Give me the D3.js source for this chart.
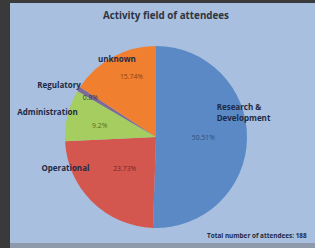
<!DOCTYPE html>
<html>
<head>
<meta charset="utf-8">
<script src="https://cdn.jsdelivr.net/npm/d3@7"></script>
<style>
html,body{margin:0;padding:0;background:#4a4a4a;}
svg{display:block;font-family:"Open Sans","DejaVu Sans",sans-serif;}
</style>
</head>
<body>
<div id="chart"></div>
<script>
// data (percent of attendees)
var categories = ["Research & Development", "Operational", "Administration", "Regulatory", "unknown"];
var values = [50.51, 23.73, 9.2, 0.8, 15.74];
var colors = ["#5a89c6", "#d4574f", "#a6cd60", "#7d6a96", "#f07f30"];
var labelColors = ["#2d4f80", "#7a2420", "#4d6e1e", "#3c3050", "#8a4210"];

var width = 315, height = 248;
var cx = 156, cy = 137, r = 91;

var svg = d3.select("#chart").append("svg")
  .attr("width", width).attr("height", height);

// frame + plot background
svg.append("rect").attr("width", width).attr("height", height).attr("fill", "#3a3a3a");
svg.append("rect").attr("x", 10).attr("y", 3).attr("width", width - 10).attr("height", height - 8)
  .attr("fill", "#a8bfdf");
svg.append("rect").attr("x", 10).attr("y", height - 5).attr("width", width - 10).attr("height", 5)
  .attr("fill", "#8e9aab");

svg.append("text").attr("x", 166).attr("y", 19).attr("text-anchor", "middle")
  .attr("font-size", 9.8).attr("font-weight", "bold").attr("fill", "#2e3440")
  .text("Activity field of attendees");

var pie = d3.pie().sort(null).value(function(d){ return d; });
var arcs = pie(values);
var arc = d3.arc().innerRadius(0).outerRadius(r);

var g = svg.append("g").attr("transform", "translate(" + cx + "," + cy + ")");

g.selectAll("path").data(arcs).enter().append("path")
  .attr("d", arc)
  .attr("fill", function(d, i){ return colors[i]; });

function pos(d, da, rf){
  var a = (d.startAngle + d.endAngle) / 2 + da * Math.PI / 180;
  var rr = r * rf;
  return "translate(" + (Math.sin(a) * rr) + "," + (-Math.cos(a) * rr + 2) + ")";
}

// percentage labels inside slices
var pctCfg = [
  {da: 0, rf: 0.52},
  {da: 0, rf: 0.49},
  {da: -3, rf: 0.63},
  {da: -1, rf: 0.84},
  {da: 6, rf: 0.71}
];
g.selectAll("text.pct").data(arcs).enter().append("text")
  .attr("class", "pct")
  .attr("transform", function(d, i){ return pos(d, pctCfg[i].da, pctCfg[i].rf); })
  .attr("text-anchor", "middle")
  .attr("font-size", 6.8)
  .attr("fill", function(d, i){ return labelColors[i]; })
  .text(function(d){ return d.data + "%"; });

// category labels
var nameCfg = [
  {da: -25, rf: 0.73, anchor: "start"},
  {da: 20, rf: 0.81, anchor: "end"},
  {da: 3.5, rf: 0.9, anchor: "end"},
  {da: 2.5, rf: 1.0, anchor: "end"},
  {da: 1.5, rf: 0.95, anchor: "middle"}
];
var names = g.selectAll("text.name").data(arcs).enter().append("text")
  .attr("class", "name")
  .attr("transform", function(d, i){ return pos(d, nameCfg[i].da, nameCfg[i].rf); })
  .attr("text-anchor", function(d, i){ return nameCfg[i].anchor; })
  .attr("font-size", 8).attr("font-weight", "bold").attr("fill", "#1f2a44");

names.each(function(d, i){
  var t = d3.select(this);
  if (i === 0) {
    t.append("tspan").attr("x", 0).attr("dy", "-0.3em").text("Research &");
    t.append("tspan").attr("x", 0).attr("dy", "1.4em").text("Development");
  } else {
    t.text(categories[i]);
  }
});

svg.append("text").attr("x", 207).attr("y", 238)
  .attr("font-size", 6.4).attr("font-weight", "bold").attr("fill", "#1f2a44")
  .text("Total number of attendees: 188");
</script>
</body>
</html>
